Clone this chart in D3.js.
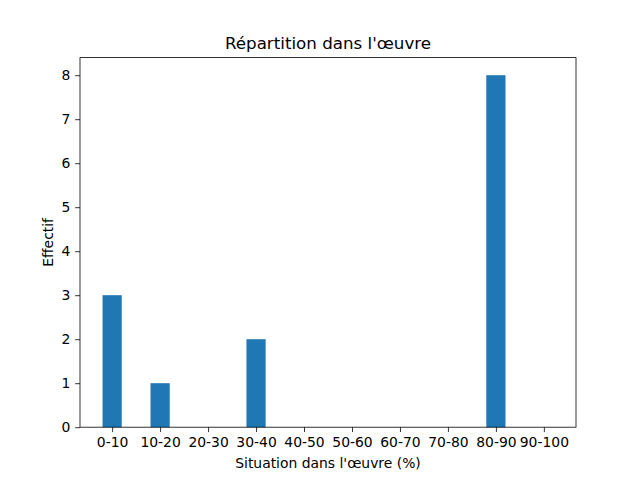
<!DOCTYPE html>
<html><head><meta charset="utf-8">
<script src="https://cdn.jsdelivr.net/npm/d3@7"></script>
<style>body{margin:0;background:#fff}text{font-family:"DejaVu Sans",sans-serif}</style>
</head><body><svg id="c" width="640" height="480"></svg>
<script>
const categories = ["0-10","10-20","20-30","30-40","40-50","50-60","60-70","70-80","80-90","90-100"];
const values = [3,1,0,2,0,0,0,0,8,0];
const yTicks = [0,1,2,3,4,5,6,7,8];

const svg = d3.select("#c");
const L=80, R=576, T=57.6, B=427.2;
const bw = 0.4;
const x = d3.scaleLinear().domain([-0.2-0.47, 9.2+0.47]).range([L,R]);
const y = d3.scaleLinear().domain([0, 8.4]).range([B,T]);

svg.append("g").selectAll("rect").data(values).join("rect")
  .attr("x",(d,i)=>x(i-bw/2)).attr("width",x(bw)-x(0))
  .attr("y",d=>y(d)).attr("height",d=>y(0)-y(d)).attr("fill","#1f77b4");

const fs = 13.9;
const xa = svg.append("g").attr("transform",`translate(0,${B})`)
  .call(d3.axisBottom(x).tickValues(d3.range(categories.length)).tickFormat(i=>categories[i]).tickSize(4.86).tickPadding(4.86));
const ya = svg.append("g").attr("transform",`translate(${L},0)`)
  .call(d3.axisLeft(y).tickValues(yTicks).tickFormat(d3.format("d")).tickSize(4.86).tickPadding(4.86));
[xa,ya].forEach(a=>{a.select(".domain").remove();a.selectAll("line").attr("stroke","#000").attr("stroke-width",0.8);
  a.selectAll("text").attr("font-size",fs).attr("font-family","DejaVu Sans").attr("fill","#000");});

svg.append("rect").attr("x",L).attr("y",T).attr("width",R-L).attr("height",B-T)
  .attr("fill","none").attr("stroke","#000").attr("stroke-width",0.8);

svg.append("text").attr("x",(L+R)/2).attr("y",T-8.3).attr("text-anchor","middle")
  .attr("font-size",16.7).text("Répartition dans l'œuvre");
svg.append("text").attr("x",(L+R)/2).attr("y",468).attr("text-anchor","middle")
  .attr("font-size",fs).text("Situation dans l'œuvre (%)");
svg.append("text").attr("transform",`translate(53,${(T+B)/2}) rotate(-90)`).attr("text-anchor","middle")
  .attr("font-size",fs).text("Effectif");
</script></body></html>
